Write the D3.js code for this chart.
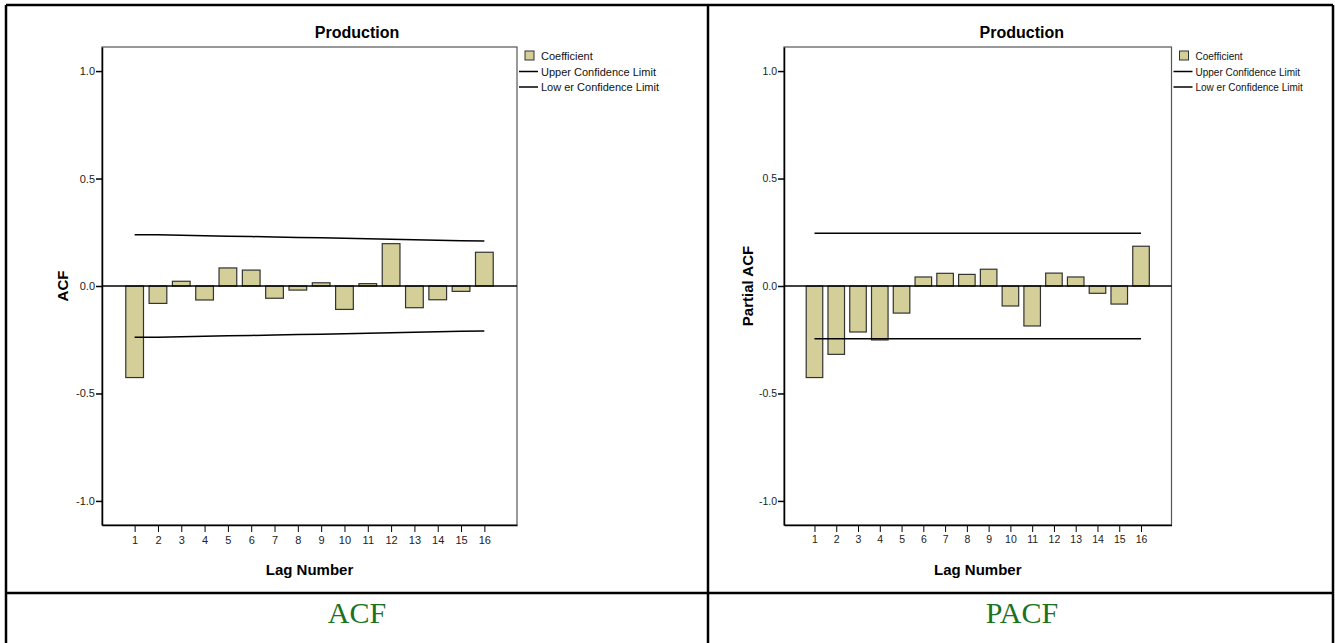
<!DOCTYPE html>
<html>
<head>
<meta charset="utf-8">
<script src="https://cdn.jsdelivr.net/npm/d3@7/dist/d3.min.js"></script>
<style>
  body { margin: 0; background: #fff; }
  svg { display: block; }
  .tick text { font-family: Arial, "Liberation Sans", sans-serif; font-size: 11px; fill: #222; }
</style>
</head>
<body>
<script>
var w = 1335;
var h = 643;

// lag categories
var lags = [1, 2, 3, 4, 5, 6, 7, 8, 9, 10, 11, 12, 13, 14, 15, 16];
var yTicks = [-1.0, -0.5, 0.0, 0.5, 1.0];

// ACF
var acfValues = [-0.426, -0.081, 0.022, -0.065, 0.084, 0.074, -0.057, -0.019,
                 0.015, -0.109, 0.011, 0.197, -0.101, -0.064, -0.025, 0.157];
var acfUpper = [0.239, 0.238, 0.236, 0.234, 0.232, 0.230, 0.228, 0.226,
                0.224, 0.222, 0.220, 0.218, 0.215, 0.213, 0.211, 0.209];
var acfLower = [-0.239, -0.238, -0.236, -0.234, -0.232, -0.230, -0.228, -0.226,
                -0.224, -0.222, -0.220, -0.218, -0.215, -0.213, -0.211, -0.209];

// PACF
var pacfValues = [-0.426, -0.318, -0.214, -0.251, -0.126, 0.042, 0.059, 0.054,
                  0.078, -0.093, -0.186, 0.060, 0.042, -0.034, -0.084, 0.185];
var pacfUpper = [0.245, 0.245, 0.245, 0.245, 0.245, 0.245, 0.245, 0.245,
                 0.245, 0.245, 0.245, 0.245, 0.245, 0.245, 0.245, 0.245];
var pacfLower = [-0.245, -0.245, -0.245, -0.245, -0.245, -0.245, -0.245, -0.245,
                 -0.245, -0.245, -0.245, -0.245, -0.245, -0.245, -0.245, -0.245];

var legendLabels = ["Coefficient", "Upper Confidence Limit", "Low er Confidence Limit"];

var svg = d3.select("body")
  .append("svg")
  .attr("width", w)
  .attr("height", h);

// table grid
var grid = svg.append("g").attr("stroke", "#000").attr("stroke-width", 2.5);
grid.append("line").attr("x1", 6).attr("x2", 6).attr("y1", 5).attr("y2", h);
grid.append("line").attr("x1", 1333).attr("x2", 1333).attr("y1", 5).attr("y2", h);
grid.append("line").attr("x1", 708).attr("x2", 708).attr("y1", 5).attr("y2", h);
grid.append("line").attr("x1", 6).attr("x2", 1333).attr("y1", 5).attr("y2", 5);
grid.append("line").attr("x1", 6).attr("x2", 1333).attr("y1", 593).attr("y2", 593);

// plain hyphen minus like the original
var fmt1 = function(d) { return d3.format(".1f")(d).replace("\u2212", "-"); };

function drawPanel(p) {
  var x = d3.scaleLinear().domain([-0.4, 17.4]).range([p.left, p.right]);
  var y = d3.scaleLinear().domain([-1.112, 1.112]).range([525, 47]);
  var step = x(2) - x(1);
  var bw = step * 0.76;

  var g = svg.append("g");

  // frame
  g.append("rect")
    .attr("x", p.left).attr("y", y(1.112))
    .attr("width", p.right - p.left).attr("height", y(-1.112) - y(1.112))
    .attr("fill", "none").attr("stroke", "#555").attr("stroke-width", 1.2);

  // axes
  g.append("g")
    .attr("transform", "translate(" + p.left + ",0)")
    .call(d3.axisLeft(y).tickValues(yTicks).tickSizeInner(6).tickSizeOuter(0).tickPadding(1)
      .tickFormat(fmt1))
    .call(function(a) { a.select(".domain").attr("stroke", "#000").attr("stroke-width", 1.5); })
    .call(function(a) { a.selectAll(".tick line").attr("stroke", "#000").attr("stroke-width", 1.5); })
    .call(function(a) { a.selectAll(".tick text").style("font-size", p.tickSize + "px"); });

  g.append("g")
    .attr("transform", "translate(0,525)")
    .call(d3.axisBottom(x).tickValues(lags).tickSizeInner(7).tickSizeOuter(0).tickPadding(4)
      .tickFormat(d3.format("d")))
    .call(function(a) { a.select(".domain").attr("stroke", "#000").attr("stroke-width", 1.5); })
    .call(function(a) { a.selectAll(".tick line").attr("stroke", "#000"); })
    .call(function(a) { a.selectAll(".tick text").style("font-size", p.tickSize + "px"); });

  // bars
  g.selectAll("rect.bar")
    .data(p.values)
    .enter().append("rect")
    .attr("class", "bar")
    .attr("x", function(d, i) { return x(lags[i]) - bw / 2; })
    .attr("y", function(d) { return y(Math.max(0, d)); })
    .attr("width", bw)
    .attr("height", function(d) { return Math.abs(y(d) - y(0)); })
    .attr("fill", "#d4cf98")
    .attr("stroke", "#333")
    .attr("stroke-width", 1.2);

  // zero line
  g.append("line")
    .attr("x1", p.left).attr("x2", p.right)
    .attr("y1", y(0)).attr("y2", y(0))
    .attr("stroke", "#000").attr("stroke-width", 1.5);

  // confidence limits
  var line = d3.line()
    .x(function(d, i) { return x(lags[i]); })
    .y(function(d) { return y(d); });
  [p.upper, p.lower].forEach(function(s) {
    g.append("path")
      .attr("d", line(s))
      .attr("fill", "none")
      .attr("stroke", "#000")
      .attr("stroke-width", 1.5);
  });

  // titles
  g.append("text")
    .attr("x", (p.left + p.right) / 2 + p.titleShift).attr("y", 38)
    .attr("text-anchor", "middle")
    .attr("font-family", "Arial, 'Liberation Sans', sans-serif")
    .attr("font-weight", "bold").attr("font-size", 16)
    .text("Production");

  g.append("text")
    .attr("x", (p.left + p.right) / 2).attr("y", 575)
    .attr("text-anchor", "middle")
    .attr("font-family", "Arial, 'Liberation Sans', sans-serif")
    .attr("font-weight", "bold").attr("font-size", 15)
    .text("Lag Number");

  g.append("text")
    .attr("transform", "translate(" + p.yLabelX + "," + y(0) + ") rotate(-90)")
    .attr("text-anchor", "middle")
    .attr("font-family", "Arial, 'Liberation Sans', sans-serif")
    .attr("font-weight", "bold").attr("font-size", 15)
    .text(p.yLabel);

  // legend
  var lg = g.append("g").attr("transform", "translate(" + (p.right + 2) + ",0)")
    .attr("font-family", "Arial, 'Liberation Sans', sans-serif").attr("font-size", p.legendSize);
  lg.append("rect").attr("x", 6).attr("y", 51).attr("width", 9).attr("height", 9)
    .attr("fill", "#d4cf98").attr("stroke", "#333");
  lg.append("line").attr("x1", 0).attr("x2", 19).attr("y1", 71.5).attr("y2", 71.5)
    .attr("stroke", "#000").attr("stroke-width", 1.5);
  lg.append("line").attr("x1", 0).attr("x2", 19).attr("y1", 87).attr("y2", 87)
    .attr("stroke", "#000").attr("stroke-width", 1.5);
  lg.selectAll("text.leg")
    .data(legendLabels)
    .enter().append("text")
    .attr("class", "leg")
    .attr("x", 22)
    .attr("y", function(d, i) { return [60, 75.5, 91][i]; })
    .attr("fill", "#111")
    .text(function(d) { return d; });

  // caption under the panel
  svg.append("text")
    .attr("x", p.captionX).attr("y", 623)
    .attr("text-anchor", "middle")
    .attr("font-family", "'Liberation Serif', 'Times New Roman', serif")
    .attr("font-size", 30)
    .attr("fill", "#1d721d")
    .text(p.caption);
}

drawPanel({ left: 102, right: 517, values: acfValues, upper: acfUpper, lower: acfLower,
  yLabel: "ACF", yLabelX: 68, caption: "ACF", captionX: 357, titleShift: 47.5,
  legendSize: 11, tickSize: 11 });
drawPanel({ left: 784, right: 1171.5, values: pacfValues, upper: pacfUpper, lower: pacfLower,
  yLabel: "Partial ACF", yLabelX: 753, caption: "PACF", captionX: 1022, titleShift: 44,
  legendSize: 10, tickSize: 10.5 });
</script>
</body>
</html>
